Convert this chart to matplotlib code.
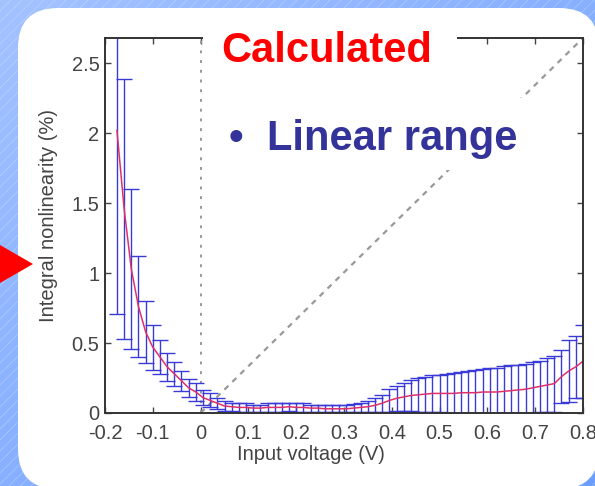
import matplotlib.pyplot as plt
import numpy as np
from matplotlib.patches import FancyBboxPatch, Rectangle, Polygon

plt.rcParams['font.family'] = ['Liberation Sans', 'DejaVu Sans']

# Data
voltage = [-0.175, -0.16, -0.145, -0.13, -0.115, -0.10, -0.085, -0.07, -0.055, -0.04,
           -0.025, -0.01, 0.005, 0.02, 0.035, 0.05, 0.065, 0.08, 0.095, 0.11,
           0.125, 0.14, 0.155, 0.17, 0.185, 0.20, 0.215, 0.23, 0.245, 0.26,
           0.275, 0.29, 0.305, 0.32, 0.335, 0.35, 0.365, 0.38, 0.395, 0.41,
           0.425, 0.44, 0.455, 0.47, 0.485, 0.50, 0.515, 0.53, 0.545, 0.56,
           0.575, 0.59, 0.605, 0.62, 0.635, 0.65, 0.665, 0.68, 0.695, 0.71,
           0.725, 0.74, 0.755, 0.77, 0.785, 0.80]
inl_mean = [2.02, 1.46, 1.03, 0.76, 0.58, 0.47, 0.40, 0.33, 0.28, 0.23,
            0.18, 0.15, 0.11, 0.09, 0.07, 0.05, 0.045, 0.04, 0.04, 0.035,
            0.035, 0.04, 0.04, 0.04, 0.045, 0.04, 0.04, 0.035, 0.035, 0.03,
            0.03, 0.03, 0.03, 0.035, 0.04, 0.045, 0.055, 0.07, 0.09, 0.105,
            0.115, 0.125, 0.13, 0.135, 0.14, 0.14, 0.14, 0.14, 0.145, 0.145,
            0.145, 0.15, 0.15, 0.15, 0.155, 0.16, 0.165, 0.17, 0.18, 0.19,
            0.20, 0.21, 0.26, 0.30, 0.33, 0.37]
inl_err = [1.31, 0.93, 0.57, 0.36, 0.22, 0.16, 0.12, 0.10, 0.085, 0.07,
           0.065, 0.065, 0.055, 0.05, 0.04, 0.035, 0.03, 0.03, 0.03, 0.025,
           0.025, 0.03, 0.03, 0.03, 0.03, 0.03, 0.03, 0.025, 0.025, 0.025,
           0.025, 0.025, 0.025, 0.03, 0.035, 0.04, 0.05, 0.06, 0.08, 0.09,
           0.10, 0.11, 0.12, 0.125, 0.13, 0.135, 0.14, 0.145, 0.15, 0.155,
           0.16, 0.165, 0.17, 0.175, 0.18, 0.18, 0.18, 0.18, 0.185, 0.185,
           0.19, 0.20, 0.19, 0.22, 0.22, 0.26]
x_ticks = [-0.2, -0.1, 0, 0.1, 0.2, 0.3, 0.4, 0.5, 0.6, 0.7, 0.8]
x_ticklabels = ['-0.2', '-0.1', '0', '0.1', '0.2', '0.3', '0.4', '0.5', '0.6', '0.7', '0.8']
y_ticks = [0, 0.5, 1, 1.5, 2, 2.5]
y_ticklabels = ['0', '0.5', '1', '1.5', '2', '2.5']
x_range = (-0.2, 0.8)
y_range = (0, 2.68)

W, H = 595, 486
fig = plt.figure(figsize=(W / 100, H / 100), dpi=100)

# Slide background (pixel coordinates)
bg = fig.add_axes([0, 0, 1, 1])
bg.axis('off')
gx, gy = np.meshgrid(np.linspace(0, 1, 200), np.linspace(0, 1, 200))
t = (gx + gy) / 2
c0 = np.array([0.64, 0.76, 1.0])
c1 = np.array([0.42, 0.62, 1.0])
grad = c0[None, None, :] * (1 - t[..., None]) + c1[None, None, :] * t[..., None]
bg.imshow(grad, extent=(0, W, H, 0), aspect='auto', zorder=0)
for k in range(-H, W + H, 11):
    bg.plot([k, k + H], [H, 0], color='white', lw=0.5, alpha=0.3, zorder=1)
bg.set_xlim(0, W)
bg.set_ylim(H, 0)
bg.add_patch(FancyBboxPatch((58, 48), 541 - 40, 441 - 40,
                            boxstyle='round,pad=40', fc='white', ec='none', zorder=2))
bg.add_patch(Polygon([[0, 245], [33, 264], [0, 283]], closed=True,
                     fc='#ff0000', ec='none', zorder=3))

# Plot
ax = fig.add_axes([105 / W, 1 - 413 / H, 478 / W, 375 / H])
ax.set_facecolor('white')
ax.plot([0, 0], y_range, color='#999999', lw=1.4, dashes=(1.5, 3.5))
ax.plot([0, x_range[1]], y_range, color='#999999', lw=1.6, dashes=(2.5, 2.5))
ax.errorbar(voltage, inl_mean, yerr=inl_err, fmt='none', ecolor='#3a3ad8',
            elinewidth=1.0, capsize=6, capthick=1.0)
ax.plot(voltage, inl_mean, color='#e0306a', lw=1.1)
ax.set_xlim(*x_range)
ax.set_ylim(*y_range)
ax.set_xticks(x_ticks)
ax.set_xticklabels(x_ticklabels)
ax.set_yticks(y_ticks)
ax.set_yticklabels(y_ticklabels)
ax.tick_params(direction='in', top=True, right=True, length=4, width=1,
               color='#444444', labelcolor='#444444', labelsize=14.5)
ax.tick_params(axis='x', pad=8)
ax.tick_params(axis='y', pad=4)
for s in ax.spines.values():
    s.set_color('#333333')
    s.set_linewidth(1.4)
ax.set_xlabel('Input voltage (V)', fontsize=14.5, color='#444444', va='center')
ax.xaxis.set_label_coords(0.431, -0.11)
ax.set_ylabel('Integral nonlinearity (%)', fontsize=14.5, color='#444444', va='center')
ax.yaxis.set_label_coords(-0.119, 0.528)

# Text boxes on top
top = fig.add_axes([0, 0, 1, 1], zorder=10)
top.set_xlim(0, W)
top.set_ylim(H, 0)
top.axis('off')
top.add_patch(Rectangle((203, 18), 254, 57, fc='white', ec='none'))
top.add_patch(Rectangle((212, 98), 331, 72, fc='white', ec='none'))
top.text(221, 62, 'Calculated', color='#ff0000', fontsize=30, fontweight='bold',
         ha='left', va='baseline')
top.text(229, 150, '•', color='#333399', fontsize=30, fontweight='bold',
         ha='left', va='baseline')
top.text(267, 150, 'Linear range', color='#333399', fontsize=30, fontweight='bold',
         ha='left', va='baseline')

plt.savefig('out.png', dpi=100)
plt.close()
